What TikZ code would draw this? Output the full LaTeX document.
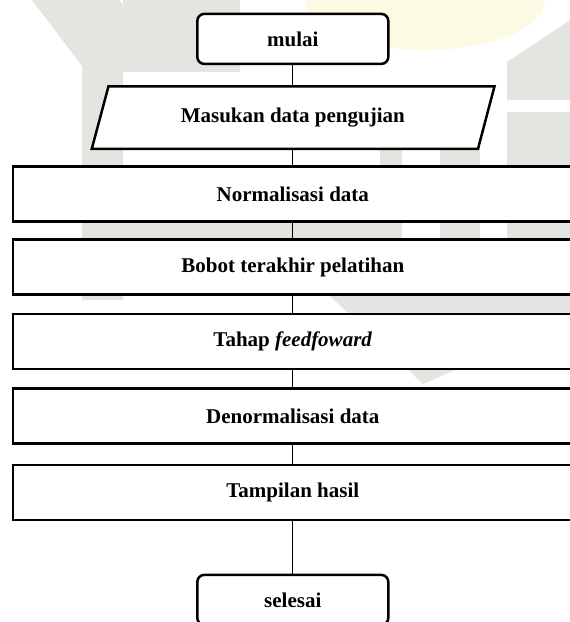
\documentclass[tikz,border=0pt]{standalone}
\usepackage{fontspec}
\setmainfont{Liberation Serif}
\definecolor{wmgray}{RGB}{227,229,224}
\definecolor{wmgold}{RGB}{253,250,228}
\begin{document}
\begin{tikzpicture}[x=1pt,y=-1pt,
  font=\fontsize{21}{25}\selectfont\bfseries,
  wm/.style={fill=wmgray,draw=none},
  termbox/.style={draw,line width=2.5pt,rounded corners=7pt,fill=white,
    minimum width=191pt,minimum height=50pt,inner sep=0pt},
  procbox/.style={draw,line width=2.5pt,fill=white,
    minimum width=560pt,minimum height=55pt,inner sep=0pt},
  iobox/.style={minimum width=370pt,minimum height=62.5pt,inner sep=0pt},
  link/.style={line width=1.1pt}]
\useasboundingbox (0,0) rectangle (570,622);
\clip (0,0) rectangle (570,622);
\fill[white] (0,0) rectangle (570,622);

% faint background logo
\fill[wmgold] (425,0) ellipse [x radius=120, y radius=50];
\fill[wm] (32,0) -- (119,0) -- (123,5) -- (123,300) -- (82,300) -- (82,66) -- cycle;
\fill[wm] (123,0) rectangle (240,72);
\fill[wm] (123,170) rectangle (380,296);
\fill[wm] (380,112) rectangle (402,300);
\fill[wm] (440,112) rectangle (480,300);
\fill[wm] (507,62) -- (570,20) -- (570,100) -- (507,100) -- cycle;
\fill[wm] (507,112) rectangle (570,300);
\fill[wm] (330,296) -- (570,296) -- (570,320) -- (423,384) -- cycle;

% input parallelogram outline
\draw[line width=2.5pt,fill=white] (108.5,86.3) -- (494.5,86.3) -- (478,148.8) -- (91.8,148.8) -- cycle;

% flow steps
\node[termbox] (start) at (292.8,38.9) {mulai};
\node[iobox] (input) at (292.8,117.5) {Masukan data pengujian};
\node[procbox] (norm) at (292.8,193.9) {Normalisasi data};
\node[procbox] (weights) at (292.8,267.2) {Bobot terakhir pelatihan};
\node[procbox] (ff) at (292.8,341.5) {Tahap \textit{feedfoward}};
\node[procbox] (denorm) at (292.8,416.2) {Denormalisasi data};
\node[procbox] (show) at (292.8,492.7) {Tampilan hasil};
\node[termbox] (stop) at (292.8,599.9) {selesai};

% connectors
\draw[link] (start) -- (input);
\draw[link] (input) -- (norm);
\draw[link] (norm) -- (weights);
\draw[link] (weights) -- (ff);
\draw[link] (ff) -- (denorm);
\draw[link] (denorm) -- (show);
\draw[link] (show) -- (stop);
\end{tikzpicture}
\end{document}
